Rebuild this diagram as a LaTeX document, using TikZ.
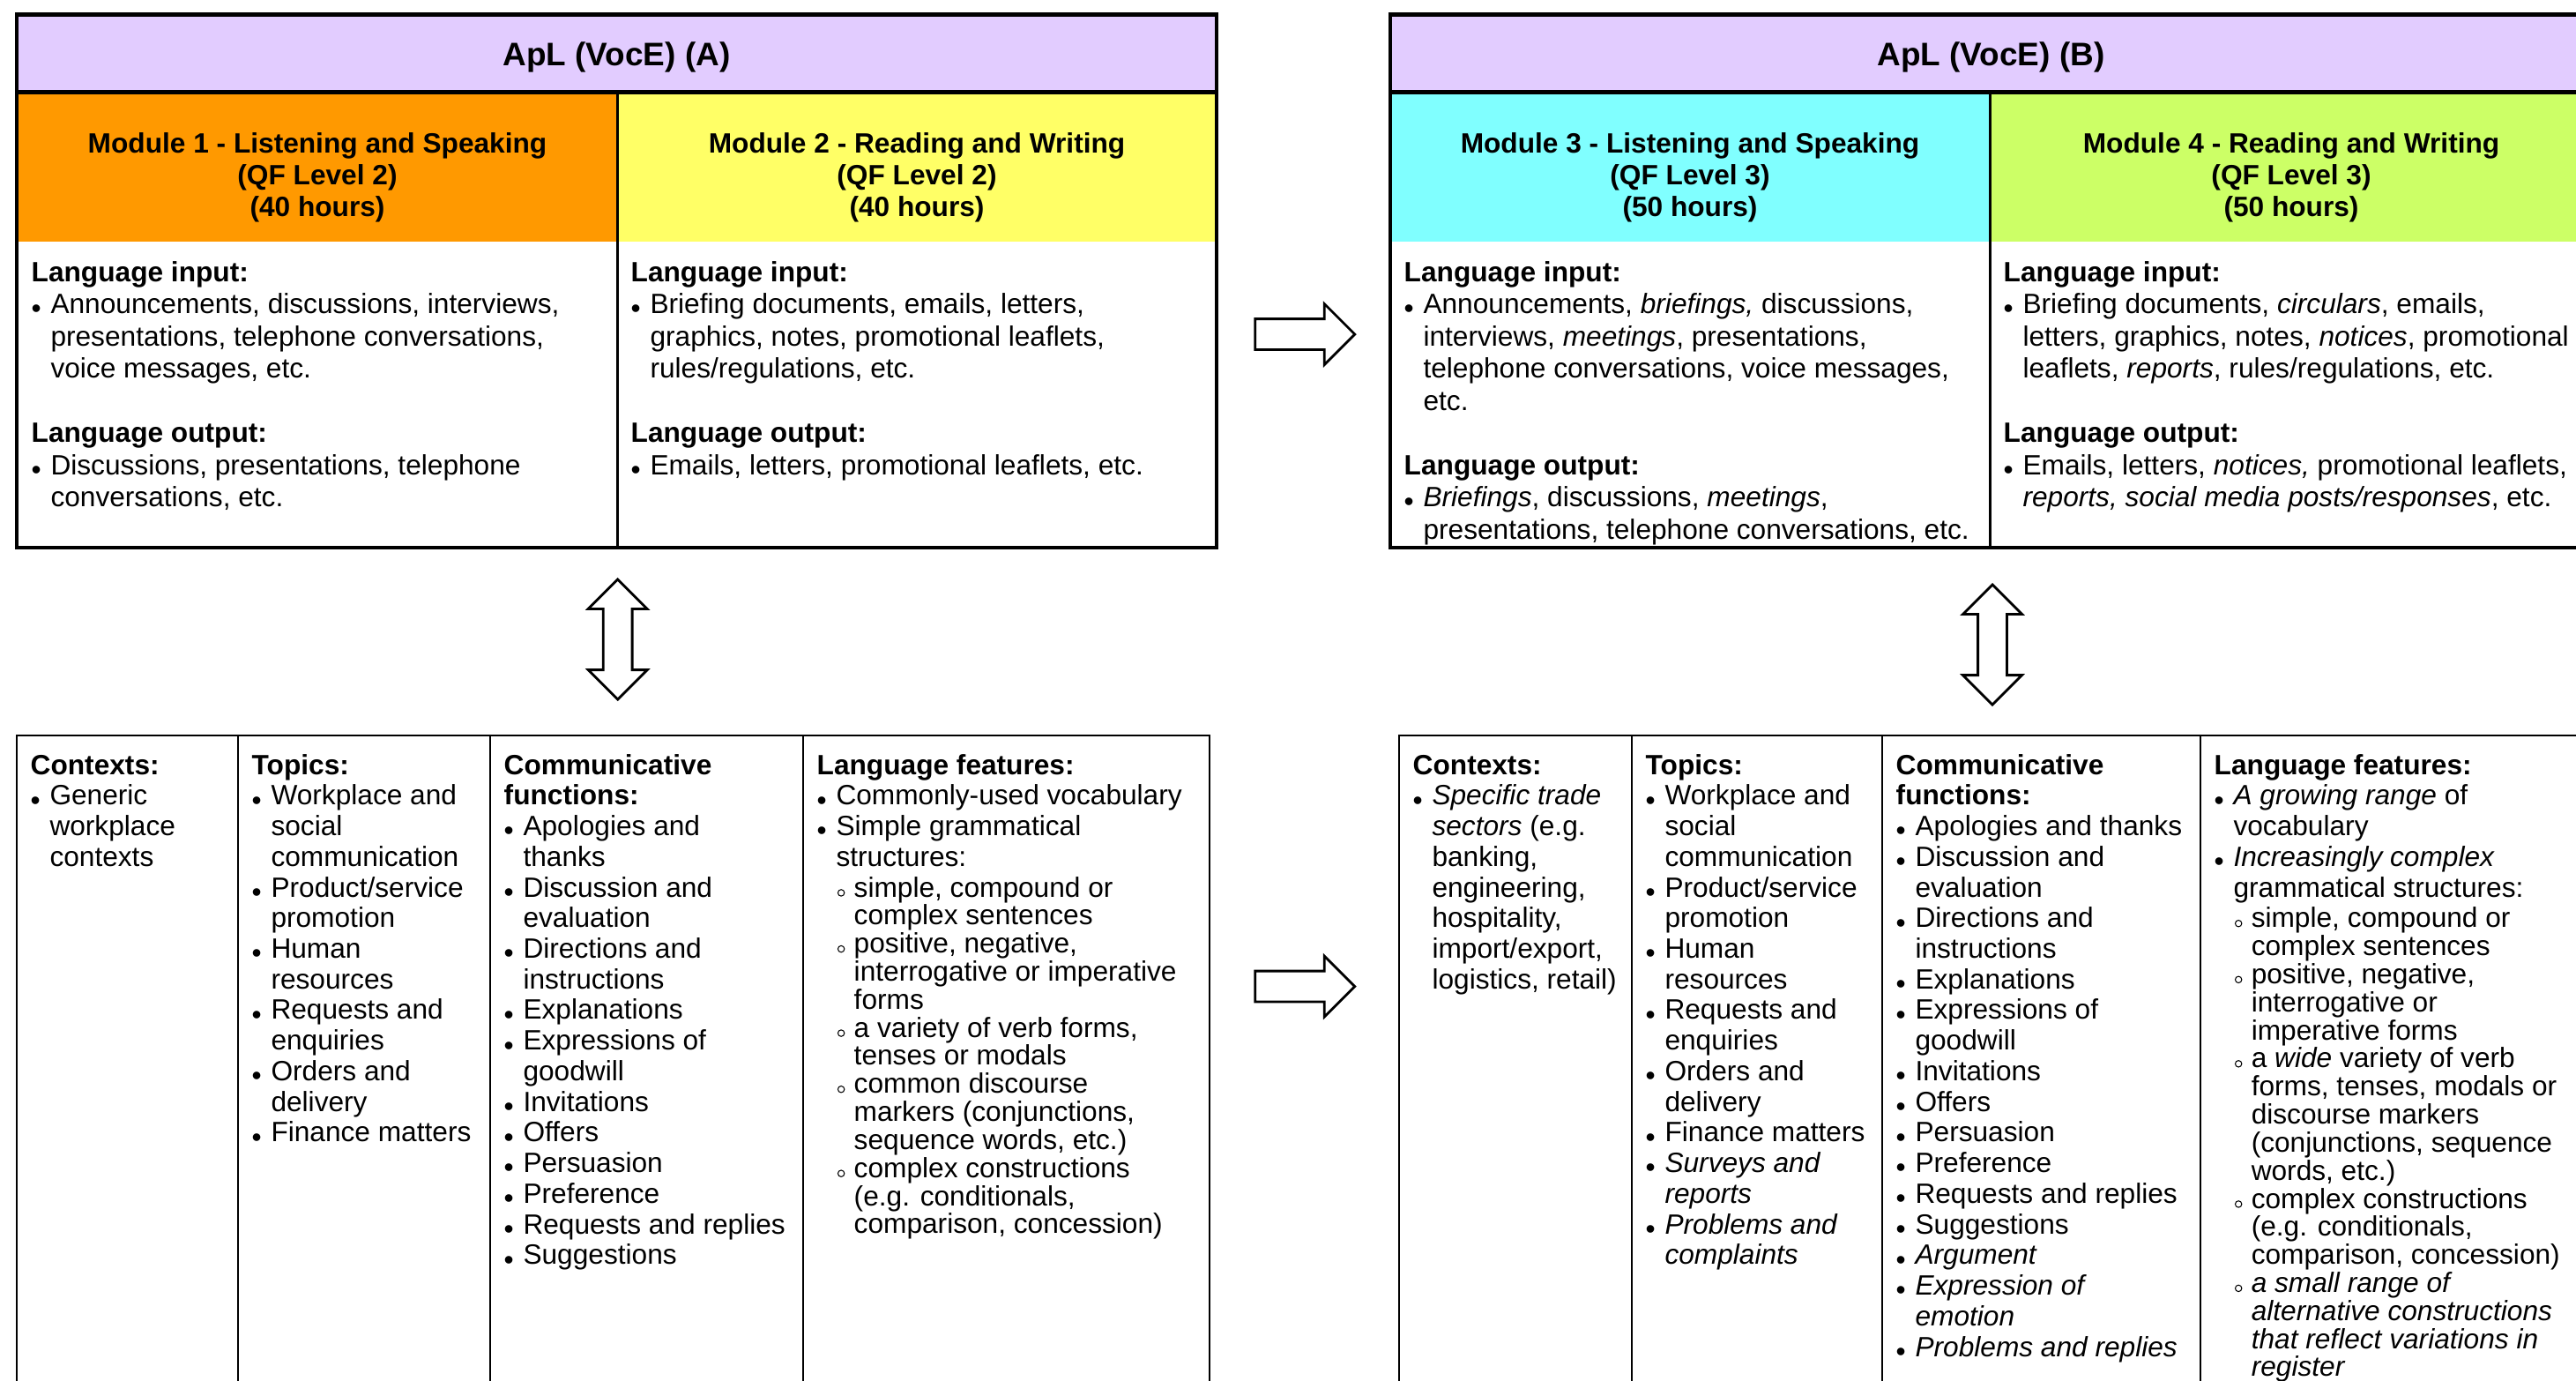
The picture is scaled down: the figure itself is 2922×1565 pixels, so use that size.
\documentclass[tikz,border=0pt]{standalone}
\usepackage{fontspec}
\setmainfont{Liberation Sans}
\usetikzlibrary{shapes.arrows}
\definecolor{lavender}{RGB}{226,204,255}
\definecolor{modorange}{RGB}{255,153,0}
\definecolor{modyellow}{RGB}{255,255,102}
\definecolor{modcyan}{RGB}{128,255,255}
\definecolor{modlime}{RGB}{204,255,102}
\newcommand\itembul{\makebox[6.2pt][l]{\raisebox{-1.5pt}{•}}}
\newcommand\itemind{\hspace*{6.2pt}}
\newcommand\subbul{\hspace*{6.6pt}\makebox[5.35pt][l]{\tikz[baseline=0pt]\draw[line width=0.3pt] (0pt,1.3pt) ++(1.05pt,0pt) circle[radius=1.05pt];}}
\newcommand\subind{\hspace*{11.95pt}}
\newcommand\tightbr{\\[-0.83pt]}
\newcommand\celltext[2]{\parbox[t]{12cm}{\fontsize{9}{#1}\selectfont\lineskiplimit=-\maxdimen\raggedright #2}}
\newcommand\headtext[2]{\parbox[t]{#1}{\fontsize{9}{10.24pt}\selectfont\bfseries\lineskiplimit=-\maxdimen\centering #2}}
\tikzset{
  celltxt/.style={anchor=base west},
  headtxt/.style={anchor=base},
  titletxt/.style={anchor=base, font=\fontsize{10.5}{12}\selectfont\bfseries},
  panelrule/.style={draw=black, line width=1.4pt},
  tablerule/.style={draw=black, line width=0.8pt},
  fwdarrow/.style={single arrow, draw, fill=white, line width=0.8pt, inner xsep=0pt, inner ysep=0.16cm,
    minimum height=1.13cm, single arrow head extend=0.17cm},
  linkarrow/.style={double arrow, draw, fill=white, line width=0.8pt, rotate=90, inner xsep=0pt, inner ysep=0.15cm,
    minimum height=1.36cm, double arrow head extend=0.17cm}
}
\begin{document}
\begin{tikzpicture}[x=0.01cm, y=0.01cm]
\tikzstyle{every node}+=[inner sep=0pt]
\useasboundingbox (0,0) rectangle (2922,-1565);
\clip (0,0) rectangle (2922,-1565);
% panel A
\fill [lavender] (19,-16.5) rectangle (1380,-104.5);
\fill [modorange] (19,-104.5) rectangle (700.5,-274);
\fill [modyellow] (700.5,-104.5) rectangle (1380,-274);
\node [titletxt] (titleA) at (699.5,-74) {ApL (VocE) (A)};
\node [headtxt] (modone) at (360,-173) {\headtext{6.6cm}{Module 1 - Listening and Speaking\\(QF Level 2)\\(40 hours)}};
\node [headtxt] (modtwo) at (1040,-173) {\headtext{6.6cm}{Module 2 - Reading and Writing\\(QF Level 2)\\(40 hours)}};
\node [celltxt] (ioone) at (35,-319) {\celltext{10.38pt}{\textbf{Language input:}\\
\itembul Announcements, discussions, interviews,\\
\itemind presentations, telephone conversations,\\
\itemind voice messages, etc.\\[10.38pt]
\textbf{Language output:}\\
\itembul Discussions, presentations, telephone\\
\itemind conversations, etc.}};
\node [celltxt] (iotwo) at (715,-319) {\celltext{10.38pt}{\textbf{Language input:}\\
\itembul Briefing documents, emails, letters,\\
\itemind graphics, notes, promotional leaflets,\\
\itemind rules/regulations, etc.\\[10.38pt]
\textbf{Language output:}\\
\itembul Emails, letters, promotional leaflets, etc.}};
\draw [tablerule] (700.5,-104.5) -- (700.5,-621);
\draw [panelrule] (19,-104.5) -- (1380,-104.5);
\draw [panelrule] (19,-16.5) rectangle (1380,-621);
% panel B
\fill [lavender] (1577,-16.5) rectangle (2940,-104.5);
\fill [modcyan] (1577,-104.5) rectangle (2257.5,-274);
\fill [modlime] (2257.5,-104.5) rectangle (2940,-274);
\node [titletxt] (titleB) at (2258.5,-74) {ApL (VocE) (B)};
\node [headtxt] (modthree) at (1917,-173) {\headtext{6.6cm}{Module 3 - Listening and Speaking\\(QF Level 3)\\(50 hours)}};
\node [headtxt] (modfour) at (2599,-173) {\headtext{6.6cm}{Module 4 - Reading and Writing\\(QF Level 3)\\(50 hours)}};
\node [celltxt] (iothree) at (1592,-319) {\celltext{10.38pt}{\textbf{Language input:}\\
\itembul Announcements, \textit{briefings,} discussions,\\
\itemind interviews, \textit{meetings}, presentations,\\
\itemind telephone conversations, voice messages,\\
\itemind etc.\\[10.38pt]
\textbf{Language output:}\\
\itembul \textit{Briefings}, discussions, \textit{meetings},\\
\itemind presentations, telephone conversations, etc.}};
\node [celltxt] (iofour) at (2272,-319) {\celltext{10.38pt}{\textbf{Language input:}\\
\itembul Briefing documents, \textit{circulars}, emails,\\
\itemind letters, graphics, notes, \textit{notices}, promotional\\
\itemind leaflets, \textit{reports}, rules/regulations, etc.\\[10.38pt]
\textbf{Language output:}\\
\itembul Emails, letters, \textit{notices,} promotional leaflets,\\
\itemind \textit{reports, social media posts/responses}, etc.}};
\draw [tablerule] (2257.5,-104.5) -- (2257.5,-621);
\draw [panelrule] (1577,-104.5) -- (2940,-104.5);
\draw [panelrule] (1577,-16.5) rectangle (2940,-621);
% block arrows
\node [fwdarrow] (fwdtop) at (1471.5,-379) {};
\node [fwdarrow] (fwdbot) at (1471.5,-1118.5) {};
\node [linkarrow] (linkA) at (700.7,-725) {};
\node [linkarrow] (linkB) at (2260,-731) {};
% table A
\draw [tablerule] (19,-834) rectangle (1372,-1600);
\draw [tablerule] (270,-834) -- (270,-1600);
\draw [tablerule] (556,-834) -- (556,-1600);
\draw [tablerule] (911,-834) -- (911,-1600);
\node [celltxt] (ctxA) at (34,-878) {\celltext{9.88pt}{\textbf{Contexts:}\\
\itembul Generic\\
\itemind workplace\\
\itemind contexts}};
\node [celltxt] (topA) at (285,-878) {\celltext{9.88pt}{\textbf{Topics:}\\
\itembul Workplace and\\
\itemind social\\
\itemind communication\\
\itembul Product/service\\
\itemind promotion\\
\itembul Human\\
\itemind resources\\
\itembul Requests and\\
\itemind enquiries\\
\itembul Orders and\\
\itemind delivery\\
\itembul Finance matters}};
\node [celltxt] (funA) at (571,-878) {\celltext{9.88pt}{\textbf{Communicative}\\
\textbf{functions:}\\
\itembul Apologies and\\
\itemind thanks\\
\itembul Discussion and\\
\itemind evaluation\\
\itembul Directions and\\
\itemind instructions\\
\itembul Explanations\\
\itembul Expressions of\\
\itemind goodwill\\
\itembul Invitations\\
\itembul Offers\\
\itembul Persuasion\\
\itembul Preference\\
\itembul Requests and replies\\
\itembul Suggestions}};
\node [celltxt] (featA) at (926,-878) {\celltext{9.88pt}{\textbf{Language features:}\\
\itembul Commonly-used vocabulary\\
\itembul Simple grammatical\\
\itemind structures:\\
\subbul simple, compound or\tightbr
\subind complex sentences\tightbr
\subbul positive, negative,\tightbr
\subind interrogative or imperative\tightbr
\subind forms\tightbr
\subbul a variety of verb forms,\tightbr
\subind tenses or modals\tightbr
\subbul common discourse\tightbr
\subind markers (conjunctions,\tightbr
\subind sequence words, etc.)\tightbr
\subbul complex constructions\tightbr
\subind (e.g. conditionals,\tightbr
\subind comparison, concession)}};
% table B
\draw [tablerule] (1587,-834) rectangle (2940,-1600);
\draw [tablerule] (1851,-834) -- (1851,-1600);
\draw [tablerule] (2135,-834) -- (2135,-1600);
\draw [tablerule] (2496,-834) -- (2496,-1600);
\node [celltxt] (ctxB) at (1602,-878) {\celltext{9.88pt}{\textbf{Contexts:}\\
\itembul \textit{Specific trade}\\
\itemind \textit{sectors} (e.g.\\
\itemind banking,\\
\itemind engineering,\\
\itemind hospitality,\\
\itemind import/export,\\
\itemind logistics, retail)}};
\node [celltxt] (topB) at (1866,-878) {\celltext{9.88pt}{\textbf{Topics:}\\
\itembul Workplace and\\
\itemind social\\
\itemind communication\\
\itembul Product/service\\
\itemind promotion\\
\itembul Human\\
\itemind resources\\
\itembul Requests and\\
\itemind enquiries\\
\itembul Orders and\\
\itemind delivery\\
\itembul Finance matters\\
\itembul \textit{Surveys and}\\
\itemind \textit{reports}\\
\itembul \textit{Problems and}\\
\itemind \textit{complaints}}};
\node [celltxt] (funB) at (2150,-878) {\celltext{9.88pt}{\textbf{Communicative}\\
\textbf{functions:}\\
\itembul Apologies and thanks\\
\itembul Discussion and\\
\itemind evaluation\\
\itembul Directions and\\
\itemind instructions\\
\itembul Explanations\\
\itembul Expressions of\\
\itemind goodwill\\
\itembul Invitations\\
\itembul Offers\\
\itembul Persuasion\\
\itembul Preference\\
\itembul Requests and replies\\
\itembul Suggestions\\
\itembul \textit{Argument}\\
\itembul \textit{Expression of}\\
\itemind \textit{emotion}\\
\itembul \textit{Problems and replies}}};
\node [celltxt] (featB) at (2511,-878) {\celltext{9.88pt}{\textbf{Language features:}\\
\itembul \textit{A growing range} of\\
\itemind vocabulary\\
\itembul \textit{Increasingly complex}\\
\itemind grammatical structures:\\
\subbul simple, compound or\tightbr
\subind complex sentences\tightbr
\subbul positive, negative,\tightbr
\subind interrogative or\tightbr
\subind imperative forms\tightbr
\subbul a \textit{wide} variety of verb\tightbr
\subind forms, tenses, modals or\tightbr
\subind discourse markers\tightbr
\subind (conjunctions, sequence\tightbr
\subind words, etc.)\tightbr
\subbul complex constructions\tightbr
\subind (e.g. conditionals,\tightbr
\subind comparison, concession)\tightbr
\subbul \textit{a small range of}\tightbr
\subind \textit{alternative constructions}\tightbr
\subind \textit{that reflect variations in}\tightbr
\subind \textit{register}}};
\end{tikzpicture}
\end{document}
